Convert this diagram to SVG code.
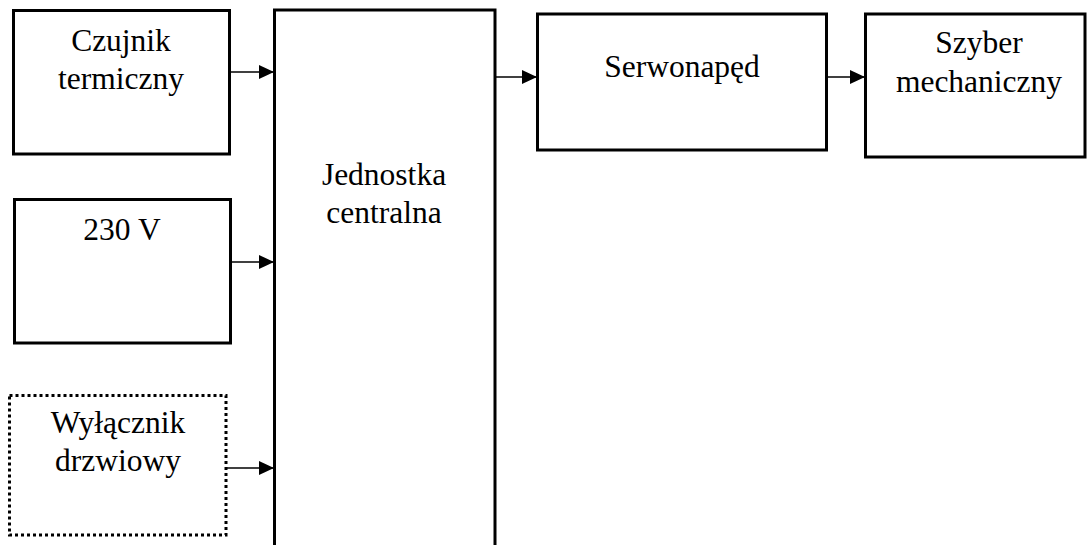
<svg xmlns="http://www.w3.org/2000/svg" width="1087" height="545" viewBox="0 0 1087 545">
<style>
.box{fill:#fff;stroke:#000;stroke-width:3}
.dot{fill:#fff;stroke:#000;stroke-width:3;stroke-dasharray:3 3}
.lbl{font-family:'Liberation Serif',Tinos,'Times New Roman',Times,serif;font-size:31.5px;fill:#000;text-anchor:middle}
.con{stroke:#000;stroke-width:1.6;fill:none}
</style>
<defs>
<marker id="ah" markerUnits="userSpaceOnUse" markerWidth="16" markerHeight="14" refX="15" refY="7" orient="auto">
<path d="M0,0 L15,7 L0,14 Z" fill="#000"/>
</marker>
</defs>
<rect width="1087" height="545" fill="#fff"/>
<g id="czujnik">
<rect class="box" x="13.5" y="10.5" width="216" height="143.5"/>
<text class="lbl" x="121" y="51">Czujnik</text>
<text class="lbl" x="121" y="89">termiczny</text>
</g>
<g id="zasilanie">
<rect class="box" x="14.5" y="199.5" width="216" height="143.5"/>
<text class="lbl" x="122" y="240">230 V</text>
</g>
<g id="wylacznik">
<rect class="dot" x="9.5" y="395.5" width="216.5" height="139.5"/>
<text class="lbl" x="118" y="433">Wyłącznik</text>
<text class="lbl" x="118" y="471">drzwiowy</text>
</g>
<g id="jednostka">
<rect class="box" x="274.5" y="10" width="220.5" height="560"/>
<text class="lbl" x="384" y="185">Jednostka</text>
<text class="lbl" x="384" y="223">centralna</text>
</g>
<g id="serwonaped">
<rect class="box" x="537.5" y="14" width="289" height="136"/>
<text class="lbl" x="682" y="77">Serwonapęd</text>
</g>
<g id="szyber">
<rect class="box" x="865.5" y="14" width="219.5" height="143"/>
<text class="lbl" x="979" y="53">Szyber</text>
<text class="lbl" x="979" y="92">mechaniczny</text>
</g>
<g id="connectors">
<line class="con" x1="231" y1="72" x2="274" y2="72" marker-end="url(#ah)"/>
<line class="con" x1="232" y1="262" x2="274" y2="262" marker-end="url(#ah)"/>
<line class="con" x1="227" y1="468" x2="274" y2="468" marker-end="url(#ah)"/>
<line class="con" x1="496" y1="77" x2="537" y2="77" marker-end="url(#ah)"/>
<line class="con" x1="828" y1="77" x2="865" y2="77" marker-end="url(#ah)"/>
</g>
</svg>
